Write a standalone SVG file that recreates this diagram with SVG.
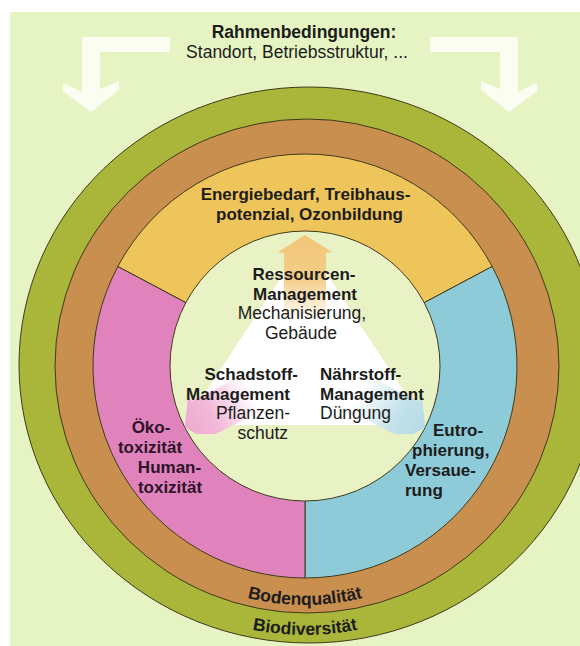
<svg xmlns="http://www.w3.org/2000/svg" width="580" height="646" viewBox="0 0 580 646">
<defs>
<style>
.t{font-family:"Liberation Sans",Arial,sans-serif;fill:#1c1c1c}
.b{font-weight:bold;font-size:17px}
.r{font-weight:normal;font-size:17.5px}
.c{font-weight:bold;font-size:17.5px}
.m{text-anchor:middle}
.e{text-anchor:end}
.ol{stroke:#3f3a1c;stroke-width:1}
.wa{fill:#fbfdf3}
.pk{fill:#2e1428}
</style>
<linearGradient id="gUp" gradientUnits="userSpaceOnUse" x1="0" y1="-131" x2="0" y2="-45">
<stop offset="0" stop-color="#f2c577"/><stop offset="0.5" stop-color="#f4cd88"/><stop offset="1" stop-color="#ffffff"/>
</linearGradient>
<linearGradient id="gPink" gradientUnits="userSpaceOnUse" x1="0" y1="-135" x2="0" y2="-60">
<stop offset="0" stop-color="#eeaad0"/><stop offset="0.4" stop-color="#f1b8d8"/><stop offset="1" stop-color="#ffffff"/>
</linearGradient>
<linearGradient id="gBlue" gradientUnits="userSpaceOnUse" x1="0" y1="-135" x2="0" y2="-60">
<stop offset="0" stop-color="#b5dbe7"/><stop offset="0.4" stop-color="#c3e2ea"/><stop offset="1" stop-color="#ffffff"/>
</linearGradient>
<clipPath id="cb"><rect x="0" y="0" width="580" height="434"/></clipPath>
<path id="arcBoden" d="M 66 366 A 239 239 0 0 0 544 366"/>
<path id="arcBio" d="M 36 366 A 269 269 0 0 0 574 366"/>
</defs>

<rect x="0" y="0" width="580" height="646" fill="#ffffff"/>
<g id="frame">
<rect x="10" y="12" width="570" height="634" fill="#e6f4c3"/>
</g>

<g id="header">
<text class="t c m" x="304" y="38">Rahmenbedingungen:</text>
<text class="t r m" x="297" y="58">Standort, Betriebsstruktur, ...</text>
</g>

<g id="ring-biodiversitaet">
<ellipse cx="309" cy="365" rx="290" ry="278" fill="#a9b63a" class="ol"/>
<text class="t c"><textPath href="#arcBio" startOffset="50%" text-anchor="middle">Biodiversität</textPath></text>
</g>

<g id="ring-bodenqualitaet">
<ellipse cx="307" cy="366" rx="252" ry="247" fill="#c98f4f" class="ol"/>
<text class="t c"><textPath href="#arcBoden" startOffset="50%" text-anchor="middle">Bodenqualität</textPath></text>
</g>

<g id="sector-energie">
<path d="M 305 366 L 117.8 266.5 A 212 212 0 0 1 492.2 266.5 Z" fill="#eec55a" class="ol"/>
<text class="t b m" x="305.5" y="200">Energiebedarf, Treibhaus-</text>
<text class="t b m" x="309.5" y="220">potenzial, Ozonbildung</text>
</g>

<g id="sector-eutrophierung">
<path d="M 305 366 L 492.2 266.5 A 212 212 0 0 1 305 578 Z" fill="#8ecbd8" class="ol"/>
<text class="t b" x="433" y="436">Eutro-</text>
<text class="t b" x="412" y="456">phierung,</text>
<text class="t b" x="405" y="476">Versaue-</text>
<text class="t b" x="405" y="496">rung</text>
</g>

<g id="sector-toxizitaet">
<path d="M 305 366 L 305 578 A 212 212 0 0 1 117.8 266.5 Z" fill="#e083bd" class="ol"/>
<text class="t b m pk" x="151" y="433">Öko-</text>
<text class="t b m pk" x="150" y="453">toxizität</text>
<text class="t b m pk" x="169.5" y="473">Human-</text>
<text class="t b m pk" x="170" y="493">toxizität</text>
</g>

<g id="core">
<circle cx="305" cy="366" r="135" fill="#e9f2c5" class="ol"/>
<polygon points="305,241 184,425 426,425" fill="#ffffff"/>
</g>

<g id="connectors">
<polygon class="wa" points="170,37 82,37 82,92 63,83 63,91 91,112 119,90 119,81 100,89 100,52 170,52"/>
<polygon class="wa" points="430,37 518,37 518,92 537,83 537,91 509,112 481,90 481,81 500,89 500,52 430,52"/>
<g transform="translate(305,366)">
<polygon fill="url(#gUp)" points="0,-131 27,-114 21,-113 21,-20 -21,-20 -21,-113 -27,-114"/>
</g>
<g clip-path="url(#cb)">
<g transform="translate(305,366) rotate(-117)">
<polygon fill="url(#gPink)" points="0,-135 26,-118 20,-117 20,-20 -20,-20 -20,-117 -26,-118"/>
</g>
<g transform="translate(305,366) rotate(117)">
<polygon fill="url(#gBlue)" points="0,-135 26,-118 20,-117 20,-20 -20,-20 -20,-117 -26,-118"/>
</g>
</g>
</g>

<g id="mgmt-ressourcen">
<text class="t b m" x="304" y="280">Ressourcen-</text>
<text class="t b m" x="305" y="299.5">Management</text>
<text class="t r m" x="302" y="319">Mechanisierung,</text>
<text class="t r m" x="301" y="339">Gebäude</text>
</g>

<g id="mgmt-schadstoff">
<text class="t b e" x="298" y="380">Schadstoff-</text>
<text class="t b e" x="290" y="399.5">Management</text>
<text class="t r e" x="290" y="419">Pflanzen-</text>
<text class="t r e" x="288" y="439">schutz</text>
</g>

<g id="mgmt-naehrstoff">
<text class="t b" x="320" y="380">Nährstoff-</text>
<text class="t b" x="320" y="399.5">Management</text>
<text class="t r" x="320" y="419">Düngung</text>
</g>
</svg>
